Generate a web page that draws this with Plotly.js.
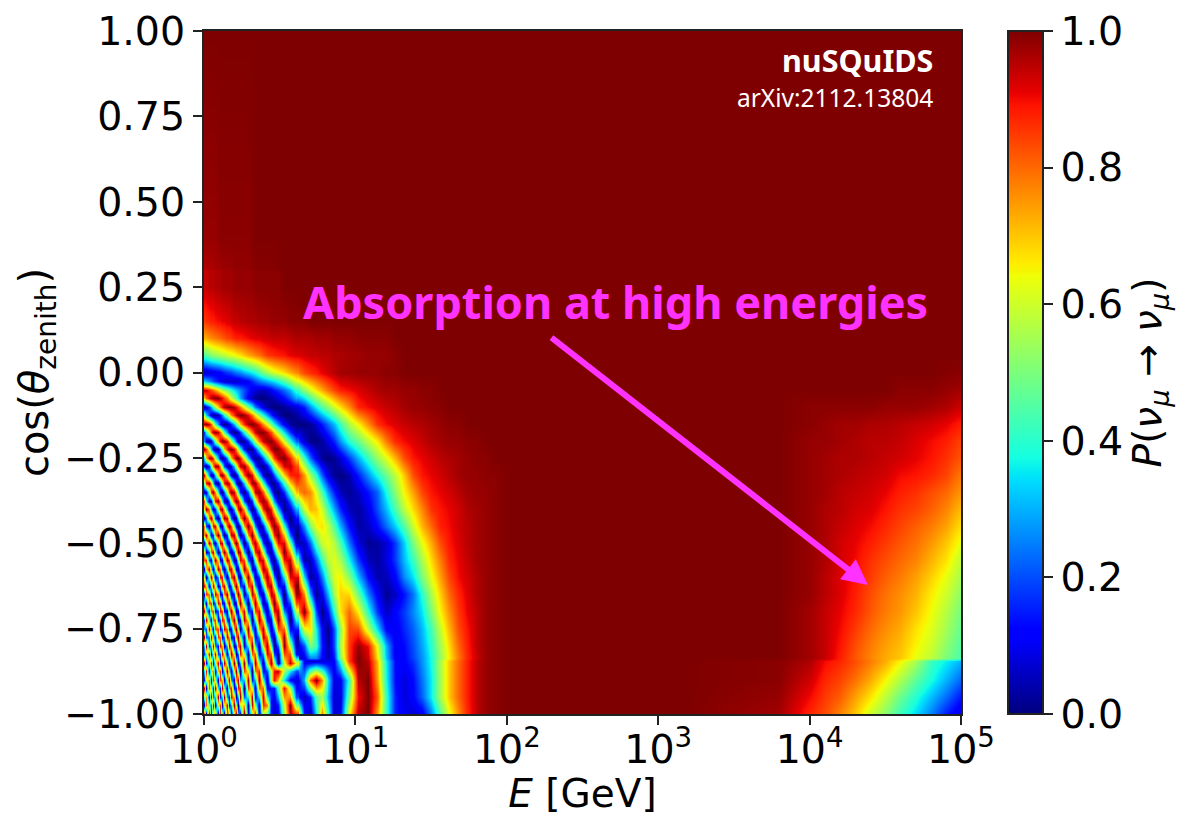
<!DOCTYPE html>
<html><head><meta charset="utf-8">
<script src="https://cdn.plot.ly/plotly-3.0.1.min.js"></script>
<style>html,body{margin:0;padding:0;background:#fff}#chart{width:1179px;height:816px}</style>
</head><body><div id="chart"></div>
<script>
const logEnergy=[0,.025,.05,.075,.1,.125,.15,.175,.2,.225,.25,.275,.3,
.34,.38,.42,.46,.5,.54,.58,.62,.66,.7,.74,.78,.82,.86,.9,
.96,1.02,1.08,1.14,1.2,1.26,1.32,1.38,1.44,1.5,1.56,1.62,1.68,1.74,1.8,1.86,1.92,
2,2.4,3.2,3.8,4,4.1,4.2,4.3,4.4,4.5,4.6,4.7,4.8,4.9,5];
const cosZenith=[1,.4,.25,.2,.15,.1,.05,0,-.05,-.1,-.15,-.2,-.25,-.3,-.35,-.4,-.45,-.5,-.55,-.6,-.65,-.7,-.75,-.8,-.835,-.845,-.9,-.95,-1];
const lowEnergyP=[
[1,1,1,1,1,1,1,1,1,1,1,1,1, 1,1,1,1,1,1,1,1,1,1,1,1,1,1,1, 1,1,1,1,1,1,1,1,1,1,1,1,1,1,1,1,1],
[.98,.98,.98,.98,.99,.99,.99,.99,.99,.99,.99,.99,.99, 1,1,1,1,1,1,1,1,1,1,1,1,1,1,1, 1,1,1,1,1,1,1,1,1,1,1,1,1,1,1,1,1],
[.94,.95,.95,.96,.96,.97,.97,.97,.98,.98,.98,.98,.98, .99,.99,.99,.99,1,1,1,1,1,1,1,1,1,1,1, 1,1,1,1,1,1,1,1,1,1,1,1,1,1,1,1,1],
[.91,.92,.93,.94,.95,.95,.96,.96,.96,.97,.97,.97,.98, .98,.98,.99,.99,.99,1,1,1,1,1,1,1,1,1,1, 1,1,1,1,1,1,1,1,1,1,1,1,1,1,1,1,1],
[.85,.87,.88,.89,.9,.91,.92,.93,.94,.94,.95,.95,.96, .96,.97,.97,.98,.98,.99,.99,.99,.99,1,1,1,1,1,1, 1,1,1,1,1,1,1,1,1,1,1,1,1,1,1,1,1],
[.72,.74,.76,.78,.8,.82,.84,.85,.87,.88,.89,.9,.91, .92,.93,.93,.94,.94,.95,.95,.96,.96,.96,.97,.97,.97,.98,.98, .98,.99,.99,.99,.99,1,1,1,1,1,1,1,1,1,1,1,1],
[.45,.48,.5,.53,.56,.58,.6,.62,.63,.66,.69,.72,.74, .77,.81,.85,.87,.88,.9,.91,.92,.93,.94,.94,.95,.95,.96,.96, .97,.97,.98,.98,.98,.99,1,1,1,1,1,1,1,1,1,1,1],
[.05,.06,.08,.1,.12,.15,.18,.2,.23,.26,.29,.32,.34, .4,.49,.56,.62,.65,.7,.74,.78,.83,.86,.88,.91,.93,.95,.97, .97,.98,.98,.98,.99,.99,1,1,1,1,1,1,1,1,1,1,1],
[.95,.9,.82,.75,.66,.57,.49,.42,.35,.29,.23,.18,.14, .07,.05,.08,.14,.2,.28,.35,.44,.52,.6,.67,.73,.79,.84,.88, .9,.92,.94,.96,.97,.97,.98,.98,.99,.99,1,1,1,1,1,1,1],
[.01,.13,.33,.55,.76,.9,.99,1,.94,.84,.72,.58,.44, .26,.11,.03,0,.01,.03,.06,.1,.15,.26,.36,.45,.52,.6,.67, .76,.87,.9,.92,.94,.95,.97,.98,.98,.99,.99,1,1,1,1,1,1],
[.98,.97,.75,.44,.17,.02,.02,.15,.35,.57,.77,.91,.99, .97,.82,.6,.4,.2,.08,.02,0,0,.02,.07,.15,.23,.31,.42, .56,.65,.76,.86,.9,.92,.94,.95,.96,.97,.98,.99,.99,1,1,1,1],
[.26,0,.13,.5,.86,1,.89,.6,.3,.08,0,.06,.24, .59,.88,1,.95,.78,.56,.36,.18,.07,.01,0,.03,.09,.16,.27, .4,.48,.58,.66,.78,.87,.9,.92,.94,.96,.97,.98,.98,.99,.99,1,1],
[.35,.88,.96,.57,.14,.01,.25,.64,.93,.99,.8,.5,.21, 0,.15,.49,.81,.98,.97,.83,.63,.42,.23,.1,.02,0,.02,.07, .18,.3,.42,.53,.62,.72,.83,.89,.91,.93,.95,.96,.97,.98,.99,.99,1],
[.95,.37,0,.33,.86,.97,.6,.15,0,.23,.62,.93,.99, .64,.18,0,.17,.52,.8,.9,.88,.75,.55,.4,.21,.08,.02,0, .04,.15,.27,.38,.48,.58,.7,.83,.89,.91,.93,.95,.97,.98,.98,.99,.99],
[.04,.32,.96,.76,.15,.05,.55,.97,.87,.42,.05,.06,.39, .93,.91,.45,.07,.03,.3,.65,.75,.8,.76,.62,.44,.27,.15,.05, .02,.06,.14,.22,.38,.52,.65,.74,.84,.89,.91,.93,.95,.97,.98,.98,.99],
[.65,.93,.17,.15,.85,.91,.29,.01,.4,.9,.94,.54,.11, .14,.74,1,.67,.19,0,.16,.36,.59,.72,.7,.6,.43,.29,.16, .05,.03,.09,.2,.31,.44,.58,.68,.77,.86,.89,.91,.93,.96,.97,.98,.99],
[.77,0,.64,.93,.17,.14,.83,.91,.3,0,.4,.9,.95, .26,.04,.59,.99,.79,.29,.01,.09,.27,.5,.64,.67,.58,.45,.3, .13,.03,.06,.13,.23,.33,.45,.6,.72,.8,.88,.9,.93,.95,.97,.98,.99],
[0,.87,.57,.03,.8,.82,.09,.26,.93,.82,.18,.03,.5, .99,.36,.01,.5,.98,.83,.36,.03,.06,.22,.45,.6,.63,.57,.45, .24,.08,.02,.03,.07,.18,.33,.5,.63,.73,.83,.89,.92,.95,.97,.98,.99],
[.84,.44,.2,1,.24,.21,.98,.53,0,.5,1,.6,.05, .47,.99,.38,.01,.49,.97,.85,.39,.04,.05,.22,.43,.58,.62,.56, .37,.18,.05,.03,.08,.18,.31,.42,.56,.68,.78,.87,.91,.94,.97,.98,.99],
[.55,.25,.94,.02,.75,.72,0,.69,.91,.15,.17,.86,.88, .02,.53,.98,.34,.02,.53,.98,.83,.35,.03,.07,.25,.47,.62,.65, .52,.31,.13,.04,.05,.12,.26,.35,.5,.63,.74,.84,.9,.93,.96,.98,.99],
[.09,.96,0,.96,.26,.34,.97,.12,.34,1,.42,.01,.62, .76,0,.67,.93,.22,.06,.62,1,.77,.29,.01,.11,.31,.55,.69, .68,.48,.25,.11,.02,.06,.14,.24,.4,.56,.69,.8,.87,.92,.96,.98,.99],
[.98,.01,.97,.1,.72,.59,.09,.99,.36,.12,.94,.65,.01, .84,.55,.04,.83,.81,.11,.14,.73,1,.68,.2,0,.14,.4,.66, .8,.66,.4,.18,.06,.12,.18,.26,.35,.5,.65,.76,.85,.91,.95,.98,.99],
[.27,.82,.14,.82,.3,.47,.8,.01,.9,.55,.03,.83,.79, .06,.99,.27,.18,.96,.62,.02,.27,.62,.67,.37,.11,.01,.21,.52, .84,.83,.58,.35,.12,.1,.16,.22,.31,.43,.59,.72,.83,.89,.95,.98,.99],
[.31,.45,.68,.27,.68,.45,.33,.88,.02,.8,.64,.01,.75, .38,.35,.93,.06,.47,.99,.38,.08,.2,.5,.42,.14,.03,.2,.55, .85,.98,.9,.63,.3,.1,.13,.2,.29,.4,.55,.68,.8,.88,.95,.98,.99],
[.33,.91,.01,1,.01,1,.05,.81,.48,.15,1,.29,.19, .88,.02,.96,.38,.13,.93,.7,.05,.1,.25,.25,.12,.05,.15,.5, .85,1,.93,.68,.32,.1,.12,.19,.27,.38,.53,.66,.78,.87,.94,.98,.99],
[.93,.33,.43,.71,.23,.71,.43,.38,.88,.02,.83,.63,.01, 1,.02,.8,.61,.02,.8,.98,.5,.1,.06,.07,.07,.09,.12,.4, .85,1,.95,.72,.36,.13,.12,.17,.27,.38,.56,.7,.8,.88,.95,.98,.99],
[.13,.99,.2,.56,.57,.4,.57,.53,.25,.94,.01,.74,.72, .32,.78,.07,.9,.55,.3,.08,.1,.3,.8,1,.75,.35,.09,.1, .42,.95,1,.75,.38,.13,.08,.13,.24,.36,.55,.7,.8,.88,.95,.98,.99],
[.48,.05,.93,.33,.43,.67,.28,.69,.45,.33,.88,.02,.82, .1,.89,.3,.1,.35,.85,.6,.15,.05,.15,.45,.55,.3,.08,.08, .5,.9,1,.82,.42,.15,.08,.12,.22,.36,.55,.7,.8,.88,.95,.98,.99],
[.89,.77,0,.77,.54,.25,.85,.12,.83,.3,.51,.78,.02, .88,.7,.2,.06,.15,.7,1,.75,.15,.04,.35,.78,.4,.07,.09, .65,.95,1,.75,.42,.15,.1,.07,.1,.25,.45,.63,.76,.87,.95,.98,.99]
];
const highEnergyP=[
[1,1,1,1,1,1,1,1,1,1,1,1,1,1,1],
[1,1,1,1,1,1,1,1,1,1,1,1,1,1,1],
[1,1,1,1,1,1,1,1,1,1,1,1,1,1,1],
[1,1,1,1,1,1,1,1,1,1,1,1,1,1,1],
[1,1,1,1,1,1,1,1,1,1,1,1,1,1,1],
[1,1,1,1,1,1,1,1,1,1,1,1,1,1,1],
[1,1,1,1,1,1,1,1,1,1,1,1,1,1,1],
[1,1,1,1,1,1,1,1,1,1,1,1,1,.995,.99],
[1,1,1,1,1,1,1,1,1,1,.99,.99,.99,.98,.97],
[1,1,1,1,.99,.99,.99,.99,.99,.98,.98,.98,.97,.96,.93],
[1,1,1,1,.99,.98,.97,.97,.96,.96,.95,.94,.93,.91,.88],
[1,1,1,1,.98,.98,.97,.96,.95,.95,.94,.92,.9,.88,.84],
[1,1,1,1,.98,.97,.96,.96,.95,.94,.93,.91,.89,.86,.82],
[1,1,1,1,.98,.97,.96,.95,.94,.93,.9,.89,.87,.84,.78],
[1,1,1,1,.98,.97,.95,.94,.93,.91,.88,.86,.83,.8,.75],
[1,1,1,1,.98,.96,.95,.93,.92,.89,.86,.84,.81,.77,.71],
[1,1,1,1,.98,.96,.94,.92,.9,.87,.84,.81,.78,.74,.67],
[1,1,1,1,.98,.96,.93,.91,.88,.85,.82,.79,.75,.7,.63],
[1,1,1,1,.98,.96,.93,.9,.86,.83,.8,.77,.72,.67,.58],
[1,1,1,1,.98,.95,.92,.89,.85,.81,.78,.74,.69,.63,.55],
[1,1,1,1,.98,.95,.92,.88,.83,.79,.76,.72,.66,.6,.52],
[1,1,1,1,.97,.94,.91,.87,.82,.78,.75,.7,.64,.57,.49],
[1,1,1,1,.97,.94,.9,.85,.8,.76,.73,.67,.62,.55,.47],
[1,1,1,1,.97,.94,.89,.83,.78,.74,.71,.65,.6,.52,.45],
[1,1,1,1,.97,.94,.88,.82,.77,.73,.7,.63,.58,.5,.44],
[1,1,1,.99,.96,.9,.87,.83,.78,.73,.65,.55,.42,.36,.3],
[1,1,1,.99,.93,.87,.84,.79,.73,.65,.56,.46,.38,.3,.22],
[1,1,1,.98,.9,.85,.81,.74,.67,.58,.48,.39,.31,.23,.14],
[1,1,1,.97,.87,.83,.77,.7,.6,.52,.42,.34,.25,.15,.08]
];
const fringeLogEnergy=[0,.015,.03,.045,.06,.075,.09,.105,.12,.135,.15,.165,.18,.195,.21,.225,.24,.265,.29,.315,.34,.365,.39,.415,.44,.465,.49,.53,.57,.61];
const fringeCosZenith=[.25,.15,.1,.05,0,-.025,-.05,-.075,-.1,-.125,-.15,-.175,-.2,-.225,-.25,-.275,-.3,-.325,-.35,-.375,-.4,-.425,-.45,-.475,-.5,-.525,-.55,-.575,-.6,-.625,-.65,-.675,-.7,-.725,-.75,-.775,-.8,-.825,-.85,-.875,-.9,-.925,-.95,-.975,-1];
const fringeP=[
[.94,.94,.95,.95,.95,.96,.96,.96,.97,.97,.97,.97,.97,.98,.98,.98,.98,.98,.98,.98,.99,.99,.99,.99,.99,.99,.99,1,1,1],
[.85,.86,.87,.88,.88,.89,.9,.9,.91,.91,.92,.92,.93,.94,.94,.94,.95,.95,.96,.96,.96,.97,.97,.97,.98,.98,.98,.98,.99,.99],
[.72,.73,.75,.76,.77,.78,.79,.8,.81,.82,.84,.84,.85,.87,.88,.88,.88,.89,.9,.91,.92,.92,.93,.93,.94,.94,.94,.94,.95,.96],
[.45,.46,.49,.51,.52,.53,.55,.56,.57,.58,.6,.61,.62,.63,.65,.66,.67,.7,.73,.75,.77,.79,.82,.85,.86,.87,.88,.89,.91,.92],
[.05,.055,.07,.08,.09,.1,.11,.12,.14,.16,.18,.19,.2,.23,.25,.26,.27,.31,.34,.37,.4,.45,.51,.55,.59,.62,.64,.68,.73,.77],
[.33,.3,.27,.24,.2,.17,.14,.11,.09,.07,.06,.06,.06,.06,.06,.07,.08,.1,.12,.16,.2,.24,.27,.3,.33,.35,.39,.45,.53,.62],
[.95,.93,.88,.84,.8,.75,.68,.63,.58,.54,.49,.45,.41,.35,.32,.29,.26,.2,.15,.1,.07,.06,.05,.07,.1,.14,.17,.23,.3,.41],
[.7,.81,.9,.95,.99,1,.99,.95,.9,.84,.76,.68,.6,.51,.44,.37,.29,.19,.11,.05,.02,0,0,.02,.03,.05,.08,.13,.2,.29],
[.01,.07,.17,.28,.42,.55,.68,.79,.88,.95,.99,1,.99,.96,.91,.85,.78,.64,.5,.38,.25,.17,.09,.04,.01,0,0,.02,.05,.08],
[.53,.34,.18,.07,.01,0,.05,.14,.25,.38,.51,.64,.76,.86,.93,.98,1,.98,.91,.79,.66,.52,.4,.28,.17,.1,.05,0,0,.03],
[.97,1,.94,.82,.64,.44,.27,.13,.04,0,.02,.08,.17,.3,.43,.56,.7,.87,.97,1,.97,.89,.76,.63,.49,.37,.25,.11,.03,0],
[.17,.39,.63,.83,.97,1,.94,.81,.64,.45,.27,.13,.04,0,.02,.08,.18,.4,.61,.8,.93,1,.99,.92,.82,.69,.55,.34,.17,.06],
[.26,.06,0,.08,.26,.5,.73,.91,.99,.98,.89,.73,.55,.36,.2,.08,.01,.02,.16,.37,.59,.79,.93,.99,.99,.93,.83,.61,.4,.22],
[1,.87,.6,.32,.09,0,.05,.22,.45,.69,.88,.98,.99,.91,.77,.58,.4,.14,.01,.03,.17,.38,.61,.79,.93,1,.99,.86,.66,.44],
[.35,.7,.94,.99,.85,.57,.29,.08,0,.07,.25,.48,.71,.89,.99,.99,.9,.63,.32,.09,0,.05,.22,.43,.66,.84,.95,1,.88,.68],
[.12,0,.15,.47,.79,.98,.97,.76,.47,.2,.04,.01,.12,.33,.56,.79,.94,.99,.8,.49,.21,.03,.01,.11,.31,.53,.73,.92,.94,.83],
[.95,.63,.24,.02,.06,.33,.67,.93,1,.87,.6,.31,.09,0,.06,.23,.47,.83,1,.91,.64,.34,.09,0,.05,.21,.42,.69,.87,.89],
[.51,.9,.99,.73,.34,.05,.02,.25,.57,.88,1,.91,.68,.38,.14,.01,.03,.33,.72,.97,.97,.75,.43,.17,.02,.02,.14,.42,.69,.83],
[.04,.08,.47,.88,1,.76,.38,.07,.01,.21,.55,.85,1,.93,.71,.42,.15,0,.22,.62,.93,.99,.82,.53,.23,.04,0,.17,.45,.7],
[.87,.4,.03,.09,.49,.9,.99,.74,.36,.06,.02,.23,.56,.87,1,.92,.68,.21,0,.17,.55,.88,1,.87,.57,.27,.07,.03,.23,.5],
[.65,1,.8,.32,.01,.15,.57,.93,.97,.69,.29,.03,.04,.29,.62,.9,1,.72,.25,0,.14,.5,.87,1,.88,.6,.3,.01,.09,.3],
[0,.25,.8,1,.67,.18,0,.25,.69,.98,.92,.57,.2,0,.08,.38,.72,1,.75,.26,0,.12,.5,.85,1,.89,.62,.16,0,.14],
[.77,.19,.03,.44,.93,.93,.49,.07,.05,.41,.83,1,.82,.42,.1,0,.18,.73,1,.73,.26,0,.14,.5,.86,1,.89,.42,.05,.05],
[.77,.97,.49,.03,.17,.72,1,.75,.27,0,.18,.61,.95,.95,.65,.25,.02,.21,.76,1,.7,.24,0,.15,.54,.88,1,.71,.23,0],
[0,.47,.98,.78,.19,.03,.44,.93,.93,.49,.07,.05,.41,.83,1,.82,.42,0,.27,.83,.99,.66,.18,0,.19,.58,.9,.92,.49,.07],
[.67,.05,.2,.83,.95,.42,.01,.23,.75,1,.71,.21,0,.23,.66,.97,.92,.33,0,.36,.88,.97,.56,.14,.01,.25,.63,1,.74,.25],
[.84,.88,.21,.05,.62,1,.64,.09,.08,.57,.98,.85,.39,.02,.1,.51,.91,.84,.22,.02,.47,.93,.91,.49,.08,.03,.31,.89,.94,.49],
[.03,.67,.97,.41,0,.45,.97,.79,.21,.02,.42,.91,.94,.51,.09,.04,.4,.98,.71,.1,.09,.59,.99,.84,.36,.03,.07,.66,1,.72],
[.55,0,.5,1,.54,.01,.3,.91,.9,.33,0,.31,.84,.98,.62,.15,.01,.6,1,.53,.02,.19,.76,1,.71,.25,0,.37,.92,.91],
[.93,.69,.02,.37,.98,.65,.05,.21,.83,.95,.42,.01,.22,.77,1,.71,.2,.12,.81,.92,.33,0,.37,.88,.96,.57,.14,.12,.73,1],
[.09,.87,.77,.06,.29,.96,.74,.09,.14,.77,.97,.49,.03,.18,.7,1,.74,.04,.32,.96,.77,.15,.06,.54,.97,.88,.41,0,.47,.97],
[.41,.05,.83,.84,.09,.25,.92,.79,.14,.11,.73,.99,.54,.04,.13,.66,1,.45,0,.59,1,.55,.02,.18,.74,1,.73,.05,.21,.83],
[.98,.44,.04,.78,.85,.1,.2,.91,.83,.15,.09,.7,1,.55,.06,.12,.66,.92,.17,.15,.84,.91,.28,0,.4,.9,.95,.25,.05,.6],
[.18,.98,.44,.03,.79,.85,.11,.21,.9,.82,.15,.09,.7,.99,.57,.06,.13,.94,.65,.01,.41,.98,.68,.1,.1,.62,.99,.53,0,.37],
[.27,.2,.99,.43,.05,.82,.84,.09,.24,.92,.8,.13,.11,.73,.99,.55,.04,.48,.99,.29,.06,.72,.96,.42,.01,.28,.83,.81,.11,.15],
[1,.21,.26,1,.37,.08,.85,.79,.07,.26,.94,.76,.11,.15,.75,.98,.49,.05,.85,.76,.05,.3,.96,.79,.15,.05,.53,.97,.32,.03],
[.31,.99,.14,.34,1,.27,.12,.91,.73,.04,.33,.97,.71,.06,.17,.8,.95,.09,.38,1,.38,.02,.66,.99,.47,.01,.22,.98,.58,.06],
[.16,.44,.93,.08,.47,.97,.19,.21,.95,.63,.01,.43,.99,.6,.04,.24,.88,.57,.02,.8,.81,.07,.27,.92,.81,.2,.03,.83,.82,.11],
[1,.11,.51,.91,.04,.54,.95,.13,.24,.97,.58,0,.47,1,.58,.02,.3,.99,.17,.3,1,.47,.01,.57,1,.55,.03,.6,.95,.65],
[.35,.93,.02,.68,.77,0,.69,.85,.06,.39,1,.43,.01,.62,.99,.45,0,.83,.64,.01,.76,.87,.09,.2,.6,.9,.95,.55,.35,.2],
[.13,.58,.76,.01,.87,.56,.03,.86,.71,.04,.57,.97,.29,.07,.74,.94,.29,.32,.98,.15,.32,1,.43,.01,.6,.9,.7,.35,.12,.08],
[.96,.01,.83,.55,.11,.99,.36,.15,.97,.5,.02,.75,.89,.13,.17,.88,.83,0,.85,.58,.02,.78,.81,.09,.15,.15,.45,.9,.55,.12],
[.48,.76,.05,.97,.26,.33,.99,.14,.34,1,.28,.13,.9,.71,.04,.33,.98,.22,.39,.95,.09,.37,.95,.4,.15,.1,.3,.75,.75,.2],
[.05,.81,.43,.23,.97,.05,.59,.84,.02,.6,.91,.1,.31,1,.53,0,.56,.73,.03,.93,.49,.05,.87,.77,.1,.08,.15,.6,1,.5],
[.89,.02,.99,.15,.56,.77,0,.87,.6,.02,.85,.71,.05,.57,.98,.3,.07,1,.12,.53,.89,.05,.6,.45,.15,.06,.1,.55,.95,.85]
];
const yTickVals=[-1,-.75,-.5,-.25,0,.25,.5,.75,1];
const yTickText=["−1.00","−0.75","−0.50","−0.25","0.00","0.25","0.50","0.75","1.00"];
const xTickVals=[0,1,2,3,4,5];
const xTickText=["10<sup>0</sup>","10<sup>1</sup>","10<sup>2</sup>","10<sup>3</sup>","10<sup>4</sup>","10<sup>5</sup>"];
const cbTicks=[0,.2,.4,.6,.8,1];
const jet=[[0,"rgb(0,0,127)"],[.11,"rgb(0,0,255)"],[.125,"rgb(0,0,255)"],[.34,"rgb(0,219,255)"],[.35,"rgb(0,230,247)"],[.375,"rgb(20,255,226)"],[.64,"rgb(238,255,8)"],[.65,"rgb(247,245,0)"],[.66,"rgb(255,236,0)"],[.89,"rgb(255,19,0)"],[.91,"rgb(232,0,0)"],[1,"rgb(127,0,0)"]];

const zRows=lowEnergyP.map((r,i)=>r.concat(highEnergyP[i])).reverse();
const yRows=cosZenith.slice().reverse();
const F="DejaVu Sans";
const TS=39.5;
const trace={type:"heatmap",x:logEnergy,y:yRows,z:zRows,zmin:0,zmax:1,zsmooth:"best",colorscale:jet,hoverinfo:"skip",
 colorbar:{x:1.0621,xanchor:"left",xpad:0,y:.5,yanchor:"middle",ypad:0,len:1,lenmode:"fraction",thickness:35,
  outlinewidth:2,outlinecolor:"#222",ticks:"outside",ticklen:9,tickwidth:2,tickcolor:"#222",
  tickvals:cbTicks,tickformat:".1f",tickfont:{family:F,size:TS,color:"#000"},
  title:{text:"<i>P</i>(<i>ν<sub>μ</sub></i> → <i>ν<sub>μ</sub></i>)",side:"right",font:{family:F,size:39,color:"#000"}}}};
const fringes={type:"heatmap",x:fringeLogEnergy,y:fringeCosZenith.slice().reverse(),z:fringeP.slice().reverse(),zmin:0,zmax:1,zsmooth:"best",colorscale:jet,showscale:false,hoverinfo:"skip"};
const layout={width:1179,height:816,margin:{l:204,r:218,t:31,b:102,pad:0,autoexpand:false},paper_bgcolor:"#fff",plot_bgcolor:"#fff",showlegend:false,
 font:{family:F,color:"#000"},
 xaxis:{range:[0,5],tickmode:"array",tickvals:xTickVals,ticktext:xTickText,tickangle:0,ticks:"outside",ticklen:9,tickwidth:2,tickcolor:"#222",ticklabelstandoff:-9,
  showline:true,mirror:true,linecolor:"#222",linewidth:2,showgrid:false,zeroline:false,tickfont:{family:F,size:TS,color:"#000"},
  title:{text:"<i>E</i> [GeV]",font:{family:F,size:39,color:"#000"},standoff:17},automargin:false},
 yaxis:{range:[-1,1],tickmode:"array",tickvals:yTickVals,ticktext:yTickText,ticks:"outside",ticklen:9,tickwidth:2,tickcolor:"#222",
  showline:true,mirror:true,linecolor:"#222",linewidth:2,showgrid:false,zeroline:false,tickfont:{family:F,size:TS,color:"#000"},
  title:{text:"cos(<i>θ</i><sub>zenith</sub>)",font:{family:F,size:40,color:"#000"},standoff:3},automargin:false},
 annotations:[
  {xref:"x",yref:"y",x:2.717,y:.207,text:"<b>Absorption at high energies</b>",showarrow:false,xanchor:"center",yanchor:"middle",font:{family:"Noto Sans",size:45,color:"#ff33ff"}},
  {xref:"x",yref:"y",x:4.828,y:.914,text:"<b>nuSQuIDS</b>",showarrow:false,xanchor:"right",yanchor:"middle",font:{family:"Noto Sans",size:30.5,color:"#fff"}},
  {xref:"x",yref:"y",x:4.828,y:.805,text:"arXiv:2112.13804",showarrow:false,xanchor:"right",yanchor:"middle",font:{family:"Noto Sans",size:24.5,color:"#fff"}},
  {xref:"x",yref:"y",axref:"x",ayref:"y",x:4.386,y:-.622,ax:2.272,ay:.11,text:" ",showarrow:true,arrowhead:2,arrowsize:.85,arrowwidth:6,arrowcolor:"#ff33ff"}
 ]};
Plotly.newPlot("chart",[trace,fringes],layout,{displayModeBar:false,staticPlot:true});
</script></body></html>
